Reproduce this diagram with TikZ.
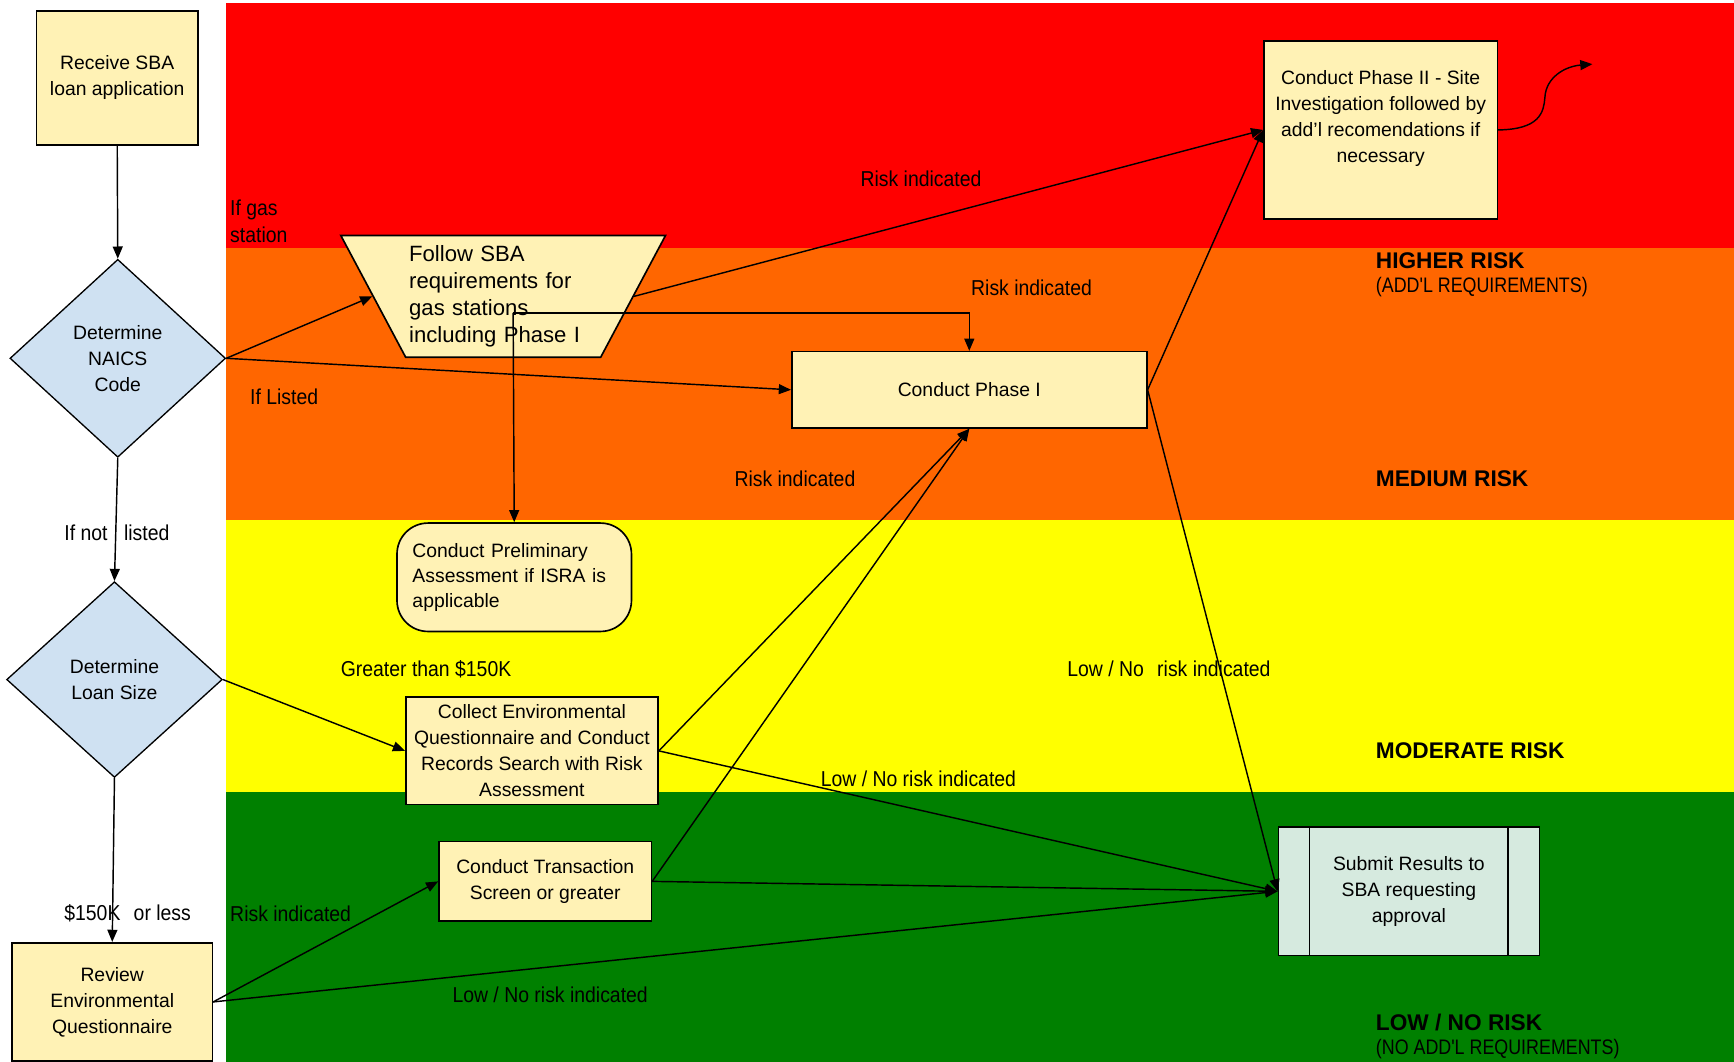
\documentclass[tikz,border=0pt]{standalone}
\usepackage{fontspec}
\setmainfont{Liberation Sans}
\newfontfamily\narrowfont{Liberation Sans}[FakeStretch=0.9]
\newfontfamily\capsfont{Liberation Sans}[FakeStretch=0.85]
\usetikzlibrary{shapes.geometric,arrows.meta}
\definecolor{riskred}{HTML}{FF0000}
\definecolor{riskorange}{HTML}{FF6600}
\definecolor{riskyellow}{HTML}{FFFF00}
\definecolor{riskgreen}{HTML}{008000}
\definecolor{boxfill}{HTML}{FFF2B5}
\definecolor{decfill}{HTML}{CFE1F2}
\definecolor{submitfill}{HTML}{D6EADF}
\begin{document}
\begin{tikzpicture}[x=1pt, y=-1pt,
    box/.style={draw, line width=1.5pt, fill=boxfill, align=center, inner sep=2pt,
      font=\fontsize{17.5}{23.5}\selectfont},
    dec/.style={diamond, draw, line width=1.2pt, fill=decfill, align=center, inner sep=0pt,
      font=\fontsize{17.5}{23.5}\selectfont},
    lbl/.style={anchor=west, inner sep=0pt, align=left,
      font=\narrowfont\fontsize{19.5}{24}\selectfont},
    riskhead/.style={anchor=west, inner sep=0pt, font=\bfseries\fontsize{20.5}{24}\selectfont},
    risksub/.style={anchor=west, inner sep=0pt, font=\capsfont\fontsize{19}{24}\selectfont},
    con/.style={-{Triangle[length=11pt,width=9pt]}, line width=1.3pt}]
  \useasboundingbox (0,0) rectangle (1568,960);
  % risk bands
  \fill[riskred] (204,3) rectangle (1568,224);
  \fill[riskorange] (204,224) rectangle (1568,470);
  \fill[riskyellow] (204,470) rectangle (1568,716);
  \fill[riskgreen] (204,716) rectangle (1568,960);

  % steps
  \node[box, minimum width=146, minimum height=121] (recv) at (106,70.5) {Receive SBA\\loan application};
  \node[dec, minimum width=195, minimum height=179] (naics) at (106.5,324) {Determine\\NAICS\\Code};
  \node[dec, minimum width=195, minimum height=177] (loan) at (103.5,614.5) {Determine\\Loan Size};
  \node[box, minimum width=181, minimum height=107] (rev) at (101.5,906) {Review\\Environmental\\Questionnaire};
  \node[box, trapezium, trapezium left angle=59, trapezium right angle=59, shape border rotate=180,
    trapezium stretches=true, minimum width=294, minimum height=110, text width=170, align=left,
    font=\fontsize{20}{24.5}\selectfont] (gas) at (455,268) {Follow SBA\\requirements for\\gas stations\\including Phase I};
  \node[box, minimum width=321, minimum height=69] (ph1) at (876.5,352.5) {Conduct Phase I};
  \node[box, minimum width=211, minimum height=161] (ph2) at (1248.5,117.5)
    {Conduct Phase II - Site\\Investigation followed by\\add'l recomendations if\\necessary\\};
  \node[box, rounded corners=28pt, minimum width=212, minimum height=98, text width=184, align=left,
    font=\fontsize{17.5}{22.5}\selectfont] (pre) at (465,522) {Conduct Preliminary\\Assessment if ISRA is\\applicable};
  \node[box, minimum width=228, minimum height=97] (col) at (481,679)
    {Collect Environmental\\Questionnaire and Conduct\\Records Search with Risk\\Assessment};
  \node[box, minimum width=192, minimum height=72] (ts) at (493,797) {Conduct Transaction\\Screen or greater};
  \node[box, fill=submitfill, minimum width=236, minimum height=116] (submit) at (1274,806)
    {Submit Results to\\SBA requesting\\approval};
  \draw[line width=1.3pt] ([xshift=29pt]submit.north west) -- ([xshift=29pt]submit.south west);
  \draw[line width=1.3pt] ([xshift=-29pt]submit.north east) -- ([xshift=-29pt]submit.south east);

  % labels
  \node[lbl] (lblgas) at (208,200) {If gas\\station};
  \node[lbl] (lbllisted) at (226,359) {If Listed};
  \node[lbl] (lblnot) at (58,482) {If not\hspace{15pt}listed};
  \node[lbl] (lblsmall) at (58,826) {\$150K\hspace{12pt}or less};
  \node[lbl] (lbltsrisk) at (208,826) {Risk indicated};
  \node[lbl] (lblgreat) at (308,605) {Greater than \$150K};
  \node[lbl] (lblcolrisk) at (664,433) {Risk indicated};
  \node[lbl] (lblgasrisk) at (778,162) {Risk indicated};
  \node[lbl] (lblph1risk) at (878,260) {Risk indicated};
  \node[lbl] (lblph1low) at (965,605) {Low / No\hspace{12pt}risk indicated};
  \node[lbl] (lblcollow) at (742,704) {Low / No risk indicated};
  \node[lbl] (lblrevlow) at (409,900) {Low / No risk indicated};
  \node[riskhead] (hhigh) at (1244,236) {HIGHER RISK};
  \node[risksub] (hhighsub) at (1244,260) {(ADD'L REQUIREMENTS)};
  \node[riskhead] (hmed) at (1244,433) {MEDIUM RISK};
  \node[riskhead] (hmod) at (1244,679) {MODERATE RISK};
  \node[riskhead] (hlow) at (1244,925) {LOW / NO RISK};
  \node[risksub] (hlowsub) at (1244,949) {(NO ADD'L REQUIREMENTS)};

  % connectors
  \coordinate (gsplit) at (464,283);
  \coordinate (ph2out) at (1440,58);
  \draw[con] (recv.south) -- (naics.north);
  \draw[con] (naics.east) -- (gas.west);
  \draw[con] (naics.east) -- (ph1.west);
  \draw[con] (naics.south) -- (loan.north);
  \draw[con] (loan.south) -- (rev.north);
  \draw[con] (loan.east) -- (col.west);
  \draw[con] (rev.east) -- (ts.west);
  \draw[con] (rev.east) -- (submit.west);
  \draw[con] (ts.east) -- (submit.west);
  \draw[con] (ts.east) -- (ph1.south);
  \draw[con] (col.east) -- (ph1.south);
  \draw[con] (col.east) -- (submit.west);
  \draw[con] (gas.east) -- (ph2.west);
  \draw[con] (gsplit) -| (ph1.north);
  \draw[con] (gsplit) -- (pre.north);
  \draw[con] (ph1.east) -- (ph2.west);
  \draw[con] (ph1.east) -- (submit.west);
  \draw[con] (ph2.east) .. controls (1392,117) and (1396,102) .. (1397,88)
    .. controls (1398,70) and (1415,60) .. (ph2out);
\end{tikzpicture}
\end{document}
